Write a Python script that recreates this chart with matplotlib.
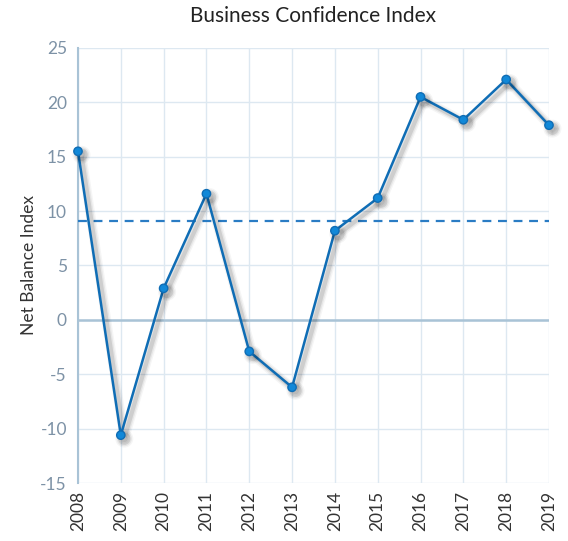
import numpy as np
import matplotlib
matplotlib.use("Agg")
import matplotlib.pyplot as plt
import matplotlib.patheffects as pe

years = [2008, 2009, 2010, 2011, 2012, 2013, 2014, 2015, 2016, 2017, 2018, 2019]
index_values = [15.5, -10.6, 2.9, 11.6, -2.9, -6.2, 8.2, 11.2, 20.5, 18.4, 22.1, 17.9]
y_ticks = [-15, -10, -5, 0, 5, 10, 15, 20, 25]

plt.rcParams["font.family"] = ["Lato", "DejaVu Sans"]
plt.rcParams["axes.unicode_minus"] = False

fig = plt.figure(figsize=(5.68, 5.41), dpi=100)
ax = fig.add_axes([0.1373, 0.1072, 0.8292, 0.8041])

grid_color = "#dde8f1"
axis_color = "#a9c3d6"
tick_color = "#7d92a6"
line_color = "#0f6db5"

ax.set_xlim(years[0], years[-1])
ax.set_ylim(-15, 25)
ax.set_xticks(years)
ax.set_yticks(y_ticks)
ax.grid(True, color=grid_color, linewidth=1)
ax.set_axisbelow(True)

for side in ["top", "right", "bottom"]:
    ax.spines[side].set_visible(False)
ax.spines["left"].set_color(axis_color)
ax.spines["left"].set_linewidth(1.5)

ax.axhline(0, color=axis_color, linewidth=1.8, zorder=2)
ax.axhline(np.mean(index_values), color="#2a7cc4", linewidth=1.6,
           linestyle=(0, (4, 3)), zorder=3)

# soft drop shadow made of a few widening, faint layers
shadow = [pe.SimpleLineShadow(offset=(2.5, -2.5), shadow_color="#000000",
                              alpha=a, linewidth=w)
          for w, a in [(7, 0.04), (5, 0.06), (3, 0.10)]]

ax.plot(years, index_values, color=line_color, linewidth=1.8,
        marker="o", markersize=6, markerfacecolor="#1188d8",
        markeredgecolor=line_color, markeredgewidth=1, zorder=4,
        clip_on=False, path_effects=shadow + [pe.Normal()])

ax.tick_params(axis="both", length=0, labelsize=12.5, colors=tick_color, pad=8)
ax.tick_params(axis="x", labelrotation=90, pad=6)
for lab in ax.get_xticklabels():
    lab.set_color("#333333")

ax.set_ylabel("Net Balance Index", fontsize=12.5, color="#333333", labelpad=2)
ax.set_title("Business Confidence Index", fontsize=15, color="#222222", pad=19)

fig.savefig("out.png", dpi=100)
